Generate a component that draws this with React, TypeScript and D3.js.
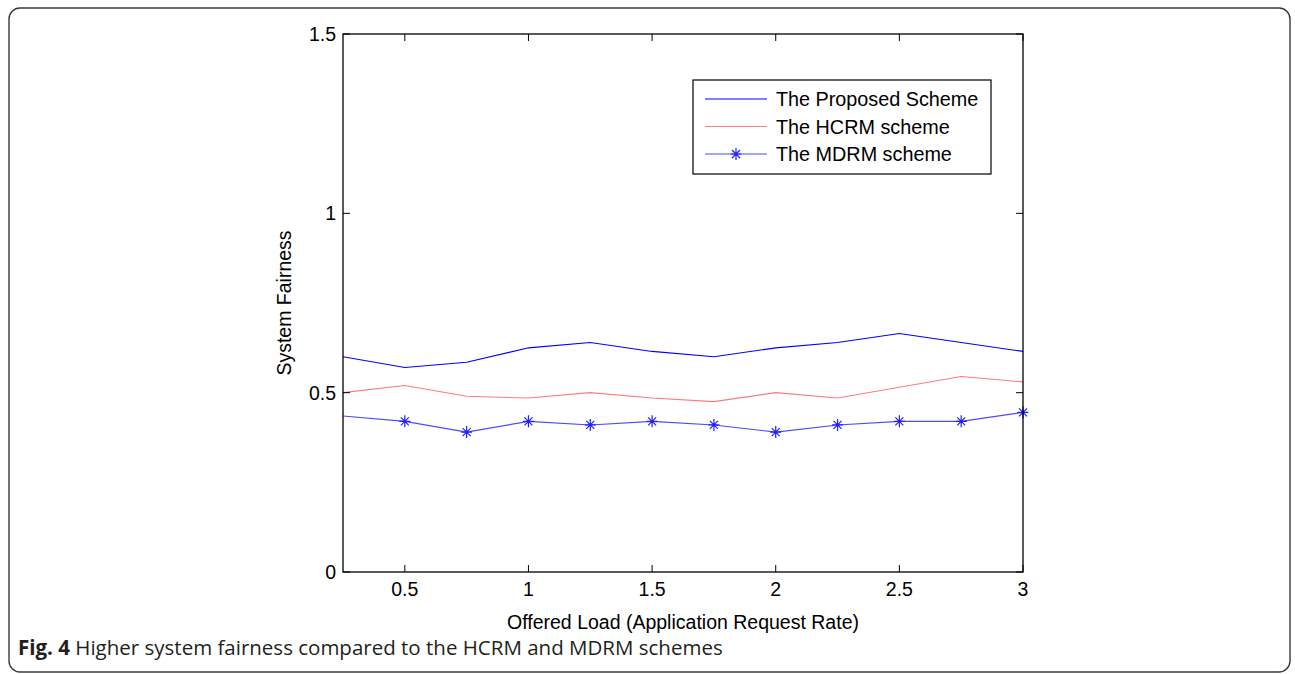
import { useEffect, useRef } from 'react';
import * as d3 from 'd3';

const loads = [0.25, 0.5, 0.75, 1, 1.25, 1.5, 1.75, 2, 2.25, 2.5, 2.75, 3];
const proposed = [0.6, 0.57, 0.585, 0.625, 0.64, 0.615, 0.6, 0.625, 0.64, 0.665, 0.64, 0.615];
const hcrm = [0.5, 0.52, 0.49, 0.485, 0.5, 0.485, 0.475, 0.5, 0.485, 0.515, 0.545, 0.53];
const mdrm = [0.435, 0.42, 0.39, 0.42, 0.41, 0.42, 0.41, 0.39, 0.41, 0.42, 0.42, 0.445];

const xTicks = [0.5, 1, 1.5, 2, 2.5, 3];
const yTicks = [0, 0.5, 1, 1.5];
const seriesNames = ['The Proposed Scheme', 'The HCRM scheme', 'The MDRM scheme'];

const App = () => {
    const svgRef = useRef<SVGSVGElement | null>(null);
    const width = 1295;
    const height = 674;
    const plot = { left: 343, right: 1023, top: 34, bottom: 572 };
    const font = '"Liberation Sans", Arial, Helvetica, sans-serif';

    useEffect(() => {
        const svg = d3.select(svgRef.current);
        svg.selectAll('*').remove();

        // outer figure frame
        svg.append('rect')
            .attr('x', 9).attr('y', 8)
            .attr('width', 1281).attr('height', 664)
            .attr('rx', 11)
            .attr('fill', 'white')
            .attr('stroke', '#3a3a3a')
            .attr('stroke-width', 1.4);

        const x = d3.scaleLinear().domain([0.25, 3]).range([plot.left, plot.right]);
        const y = d3.scaleLinear().domain([0, 1.5]).range([plot.bottom, plot.top]);

        const g = svg.append('g');

        // clip for the lines
        svg.append('defs').append('clipPath').attr('id', 'plotclip')
            .append('rect')
            .attr('x', plot.left).attr('y', plot.top)
            .attr('width', plot.right - plot.left).attr('height', plot.bottom - plot.top);

        const line = d3.line<number>()
            .x((d, i) => x(loads[i]))
            .y(d => y(d));

        const lines = g.append('g').attr('clip-path', 'url(#plotclip)');
        lines.append('path').datum(proposed)
            .attr('d', line).attr('fill', 'none')
            .attr('stroke', '#0000ff').attr('stroke-width', 1.1);
        lines.append('path').datum(hcrm)
            .attr('d', line).attr('fill', 'none')
            .attr('stroke', '#ff7a7a').attr('stroke-width', 1.1);
        lines.append('path').datum(mdrm)
            .attr('d', line).attr('fill', 'none')
            .attr('stroke', '#4a4aff').attr('stroke-width', 1.1);

        const asterisk = (cx: number, cy: number) => {
            const p = d3.path();
            p.moveTo(cx, cy - 6); p.lineTo(cx, cy + 6);
            p.moveTo(cx - 5.5, cy); p.lineTo(cx + 5.5, cy);
            p.moveTo(cx - 4, cy - 4); p.lineTo(cx + 4, cy + 4);
            p.moveTo(cx - 4, cy + 4); p.lineTo(cx + 4, cy - 4);
            return p.toString();
        };

        // first point sits on the axis and shows no marker in the original
        g.selectAll('.star')
            .data(mdrm.map((v, i) => [loads[i], v]).filter(d => d[0] > 0.25))
            .join('path')
            .attr('class', 'star')
            .attr('d', d => asterisk(x(d[0]), y(d[1])))
            .attr('stroke', '#2020ff')
            .attr('stroke-width', 1.2)
            .attr('fill', 'none');

        // axes box
        g.append('rect')
            .attr('x', plot.left).attr('y', plot.top)
            .attr('width', plot.right - plot.left).attr('height', plot.bottom - plot.top)
            .attr('fill', 'none').attr('stroke', '#000').attr('stroke-width', 1.3);

        const tickLen = 7;
        xTicks.forEach(t => {
            g.append('line')
                .attr('x1', x(t)).attr('x2', x(t))
                .attr('y1', plot.bottom).attr('y2', plot.bottom - tickLen)
                .attr('stroke', '#000');
            g.append('line')
                .attr('x1', x(t)).attr('x2', x(t))
                .attr('y1', plot.top).attr('y2', plot.top + tickLen)
                .attr('stroke', '#000');
        });
        yTicks.forEach(t => {
            g.append('line')
                .attr('x1', plot.left).attr('x2', plot.left + tickLen)
                .attr('y1', y(t)).attr('y2', y(t))
                .attr('stroke', '#000');
            g.append('line')
                .attr('x1', plot.right).attr('x2', plot.right - tickLen)
                .attr('y1', y(t)).attr('y2', y(t))
                .attr('stroke', '#000');
        });

        g.selectAll('.xlab')
            .data(xTicks)
            .join('text')
            .attr('x', d => x(d))
            .attr('y', 596)
            .attr('text-anchor', 'middle')
            .attr('font-family', font)
            .attr('font-size', 19.5)
            .text(d => String(d));

        g.selectAll('.ylab')
            .data(yTicks)
            .join('text')
            .attr('x', plot.left - 7)
            .attr('y', d => y(d) + 7)
            .attr('text-anchor', 'end')
            .attr('font-family', font)
            .attr('font-size', 19.5)
            .text(d => String(d));

        g.append('text')
            .text('Offered Load (Application Request Rate)')
            .attr('x', (plot.left + plot.right) / 2)
            .attr('y', 629)
            .attr('text-anchor', 'middle')
            .attr('font-family', font)
            .attr('font-size', 19.5);

        g.append('text')
            .text('System Fairness')
            .attr('transform', 'translate(291,' + (plot.top + plot.bottom) / 2 + ') rotate(-90)')
            .attr('text-anchor', 'middle')
            .attr('font-family', font)
            .attr('font-size', 19.5);

        // legend
        const lg = g.append('g');
        lg.append('rect')
            .attr('x', 693).attr('y', 80)
            .attr('width', 298).attr('height', 94)
            .attr('fill', 'white').attr('stroke', '#000').attr('stroke-width', 1.2);
        const colors = ['#0000ff', '#ff7a7a', '#4a4aff'];
        seriesNames.forEach((name, i) => {
            const ly = 99 + i * 27.5;
            lg.append('line')
                .attr('x1', 705).attr('x2', 767)
                .attr('y1', ly).attr('y2', ly)
                .attr('stroke', colors[i]).attr('stroke-width', 1.1);
            if (i === 2) {
                lg.append('path')
                    .attr('d', asterisk(736, ly))
                    .attr('stroke', '#2020ff').attr('stroke-width', 1.2).attr('fill', 'none');
            }
            lg.append('text')
                .text(name)
                .attr('x', 776)
                .attr('y', ly + 7)
                .attr('font-family', font)
                .attr('font-size', 19.8);
        });

        // caption
        const cap = svg.append('text')
            .attr('x', 18).attr('y', 655)
            .attr('font-family', '"Open Sans", "Noto Sans", sans-serif')
            .attr('font-size', 20.5)
            .attr('fill', '#231f20');
        cap.append('tspan').attr('font-weight', 'bold').text('Fig. 4');
        cap.append('tspan').text(' Higher system fairness compared to the HCRM and MDRM schemes');
    }, []);

    return (
        <div>
            <svg ref={svgRef} width={width} height={height}
                style={{ position: 'absolute', left: 0, top: 0, display: 'block' }}></svg>
        </div>
    );
};

export default App;
